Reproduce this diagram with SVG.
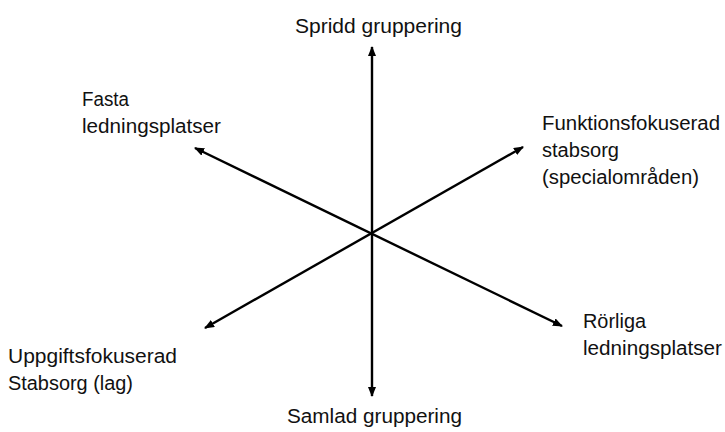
<svg xmlns="http://www.w3.org/2000/svg" width="725" height="432" viewBox="0 0 725 432">
<style>
  text { font-family: "Liberation Sans", Arial, sans-serif; font-size: 19.5px; fill: #111; }
  .ax { stroke: #000; stroke-width: 2.4; fill: none; marker-start: url(#ah); marker-end: url(#ah); }
</style>
<defs>
  <marker id="ah" viewBox="0 0 10 8" refX="9" refY="4" markerWidth="4.2" markerHeight="3.4" orient="auto-start-reverse" markerUnits="strokeWidth">
    <path d="M0,0 L10,4 L0,8 z" fill="#000"/>
  </marker>
</defs>
<rect width="725" height="432" fill="#fff"/>
<g id="connectors">
  <line class="ax" x1="372" y1="396" x2="372" y2="47"/>
  <line class="ax" x1="195" y1="148" x2="562" y2="326"/>
  <line class="ax" x1="205" y1="328" x2="523" y2="147"/>
</g>
<g id="spridd">
  <text x="295" y="33" textLength="167" lengthAdjust="spacingAndGlyphs">Spridd gruppering</text>
</g>
<g id="samlad">
  <text x="287" y="423" textLength="175" lengthAdjust="spacingAndGlyphs">Samlad gruppering</text>
</g>
<g id="fasta">
  <text x="82" y="106" textLength="47" lengthAdjust="spacingAndGlyphs">Fasta</text>
  <text x="82" y="133" textLength="139" lengthAdjust="spacingAndGlyphs">ledningsplatser</text>
</g>
<g id="funktion">
  <text x="542" y="130" textLength="178" lengthAdjust="spacingAndGlyphs">Funktionsfokuserad</text>
  <text x="542" y="157" textLength="77" lengthAdjust="spacingAndGlyphs">stabsorg</text>
  <text x="542" y="184" textLength="157" lengthAdjust="spacingAndGlyphs">(specialområden)</text>
</g>
<g id="uppgift">
  <text x="8" y="363" textLength="169" lengthAdjust="spacingAndGlyphs">Uppgiftsfokuserad</text>
  <text x="8" y="390" textLength="125" lengthAdjust="spacingAndGlyphs">Stabsorg (lag)</text>
</g>
<g id="rorliga">
  <text x="583" y="328" textLength="63" lengthAdjust="spacingAndGlyphs">Rörliga</text>
  <text x="583" y="355" textLength="139" lengthAdjust="spacingAndGlyphs">ledningsplatser</text>
</g>
</svg>
